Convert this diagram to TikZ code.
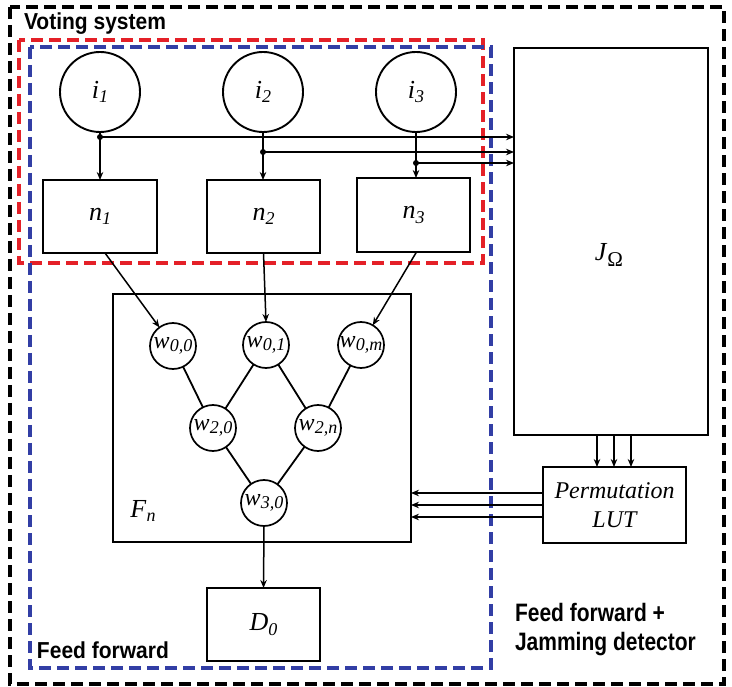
\documentclass[tikz,border=0pt]{standalone}
\usepackage{fontspec}
\setmainfont{Liberation Serif}
\setsansfont{Liberation Sans}
\usetikzlibrary{arrows.meta}
\definecolor{dred}{RGB}{228,32,40}
\definecolor{dblue}{RGB}{50,62,165}
\newcommand{\lsub}[2]{\textit{#1}\raisebox{-0.35ex}{\fontsize{18}{18}\selectfont\textit{#2}}}
\newcommand{\wsub}[2]{\textit{#1}\raisebox{-0.3ex}{\fontsize{18}{18}\selectfont\textit{#2}}}
\begin{document}
\begin{tikzpicture}[x=1pt,y=-1pt,
 every node/.style={inner sep=0pt, outer sep=0pt},
 blk/.style={draw, line width=1.9pt, rectangle, font=\fontsize{26}{26}\selectfont},
 inp/.style={draw, line width=1.9pt, circle, minimum size=80pt, font=\fontsize{26}{26}\selectfont},
 wn/.style={draw, line width=1.7pt, circle, minimum size=46pt, font=\fontsize{24}{24}\selectfont},
 con/.style={line width=1.5pt},
 arr/.style={line width=1.5pt, -{Stealth[length=8pt,width=6.5pt]}},
 frame/.style={line width=3.6pt, dash pattern=on 12pt off 6pt},
 ttl/.style={font=\sffamily\bfseries\fontsize{21}{23}\selectfont, anchor=base west, align=left}
]
\useasboundingbox (0,0) rectangle (732,687);
\fill[white] (0,0) rectangle (732,687);
% frames
\draw[frame, black] (10,7) rectangle (724,684);
\draw[frame, dred] (19,40) rectangle (483,263);
\draw[frame, dblue] (30,47) rectangle (491,668);
% titles
\node[ttl] (tvote) at (24,30) {\scalebox{1}[1.1]{Voting system}};
\node[ttl] (tff) at (37,658) {\scalebox{1}[1.1]{Feed forward}};
\node[ttl] (tffa) at (515,621) {\scalebox{1}[1.2]{Feed forward +}};
\node[ttl] (tffb) at (515,650) {\scalebox{1}[1.2]{Jamming detector}};
% inputs
\node[inp] (i1) at (100,92) {\lsub{i}{1}};
\node[inp] (i2) at (263,92) {\lsub{i}{2}};
\node[inp] (i3) at (416,92) {\lsub{i}{3}};
% n boxes
\node[blk, minimum width=114pt, minimum height=73pt] (n1) at (100,216.5) {\lsub{n}{1}};
\node[blk, minimum width=113pt, minimum height=73pt] (n2) at (263.5,216.5) {\lsub{n}{2}};
\node[blk, minimum width=113pt, minimum height=74pt] (n3) at (413.5,215) {\lsub{n}{3}};
% J box
\node[blk, minimum width=194pt, minimum height=387pt] (J) at (611,241.5) {};
\node[font=\fontsize{26}{26}\selectfont] (jl) at (609,255) {\textit{J}\raisebox{-0.45ex}{\fontsize{21}{21}\selectfont Ω}};
% Permutation LUT
\node[blk, minimum width=143pt, minimum height=76pt, align=center, font=\itshape\fontsize{24}{29}\selectfont] (perm) at (614.5,505) {Permutation\\LUT};
% F_n box
\node[blk, minimum width=298pt, minimum height=248pt] (fn) at (262,418) {};
\node[font=\fontsize{26}{26}\selectfont] (fnl) at (143,511) {\lsub{F}{n}};
% D0
\node[blk, minimum width=113pt, minimum height=73pt] (d0) at (263.5,624.5) {\lsub{D}{0}};
% w nodes
\node[wn] (w00) at (173,346) {\wsub{w}{0,0}};
\node[wn] (w01) at (266,345) {\wsub{w}{0,1}};
\node[wn] (w0m) at (361,345) {\wsub{w}{0,m}};
\node[wn] (w20) at (213,428) {\wsub{w}{2,0}};
\node[wn] (w2n) at (318,428) {\wsub{w}{2,n}};
\node[wn] (w30) at (264,503) {\wsub{w}{3,0}};
% junctions
\coordinate (d1) at (100,137);
\coordinate (d2) at (263,152);
\coordinate (d3) at (416,163);
\draw[con] (i1.south) -- (d1);
\draw[con] (i2.south) -- (d2);
\draw[con] (i3.south) -- (d3);
\draw[arr] (d1) -- (n1.north);
\draw[arr] (d2) -- (n2.north -| d2);
\draw[arr] (d3) -- (n3.north -| d3);
\draw[arr] (d1) -- (J.west |- d1);
\draw[arr] (d2) -- (J.west |- d2);
\draw[arr] (d3) -- (J.west |- d3);
\fill (d1) circle (3pt);
\fill (d2) circle (3pt);
\fill (d3) circle (3pt);
% n to w
\draw[arr] ([xshift=5pt]n1.south) -- (w00);
\draw[arr] (n2.south) -- (w01.north);
\draw[arr] ([xshift=3pt]n3.south) -- (w0m);
% w network
\draw[con, line width=1.8pt] (w00) -- (w20);
\draw[con, line width=1.8pt] (w01) -- (w20);
\draw[con, line width=1.8pt] (w01) -- (w2n);
\draw[con, line width=1.8pt] (w0m) -- (w2n);
\draw[con, line width=1.8pt] (w20) -- (w30);
\draw[con, line width=1.8pt] (w2n) -- (w30);
\draw[arr] (w30.south) -- (d0.north);
% J to perm
\coordinate (ja1) at (597,435);
\coordinate (ja2) at (614,435);
\coordinate (ja3) at (631,435);
\draw[arr] (ja1) -- (perm.north -| ja1);
\draw[arr] (ja2) -- (perm.north -| ja2);
\draw[arr] (ja3) -- (perm.north -| ja3);
% perm to fn
\coordinate (pa1) at (543,493);
\coordinate (pa2) at (543,505);
\coordinate (pa3) at (543,517);
\draw[arr] (pa1) -- (fn.east |- pa1);
\draw[arr] (pa2) -- (fn.east |- pa2);
\draw[arr] (pa3) -- (fn.east |- pa3);
\end{tikzpicture}
\end{document}
